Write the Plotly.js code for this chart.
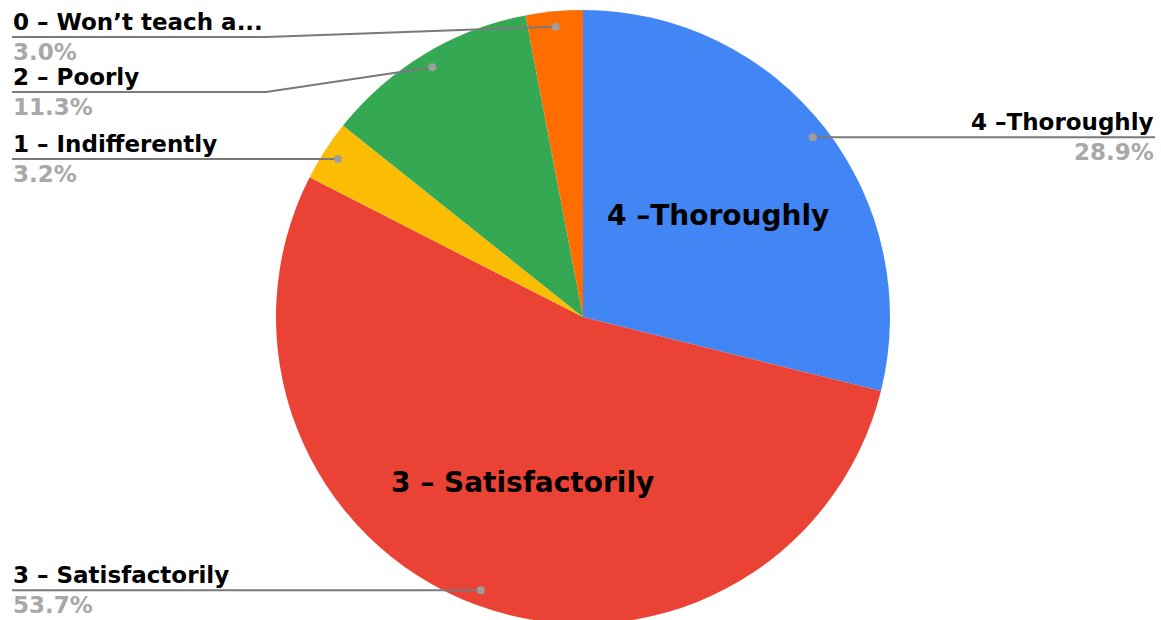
<!DOCTYPE html>
<html>
<head>
<meta charset="utf-8">
<script src="https://cdn.plot.ly/plotly-3.0.1.min.js"></script>
<style>
html, body { margin: 0; padding: 0; overflow: hidden; background: #fff; }
#chart { width: 1161px; height: 630px; }
</style>
</head>
<body>
<div id="chart"></div>
<script>
// ---- data ----
const categories = ['4 –Thoroughly', '3 – Satisfactorily', '1 – Indifferently', '2 – Poorly', '0 – Won’t teach a...'];
const values = [28.9, 53.7, 3.2, 11.3, 3.0];
const percentLabels = ['28.9%', '53.7%', '3.2%', '11.3%', '3.0%'];
const insideLabels = ['4 –Thoroughly', '3 – Satisfactorily', '', '', ''];
const colors = ['#4285F4', '#EA4335', '#FBBC04', '#34A853', '#FF6D01'];

// ---- layout geometry (pixels) ----
const W = 1161, H = 630;
const M = { t: 10, b: 6, l: 0, r: 0 };
const plotH = H - M.t - M.b;
const domX = [0.2, 0.8043];
const R = plotH / 2;
const CX = (domX[0] + domX[1]) / 2 * W;
const CY = M.t + R;

// outer label placement: side, text x, elbow x (null = straight), line y (null = dot y)
const labelPlacement = [
  { side: 'right', textX: 1155, elbowX: null, lineY: null },
  { side: 'left', textX: 12, elbowX: null, lineY: null },
  { side: 'left', textX: 12, elbowX: null, lineY: null },
  { side: 'left', textX: 12, elbowX: 266, lineY: 92 },
  { side: 'left', textX: 12, elbowX: 266, lineY: 37 }
];

const px = x => x / W;
const py = y => (M.t + plotH - y) / plotH;

const total = values.reduce((a, b) => a + b, 0);
let cum = 0;
const shapes = [];
const annotations = [];
const LINE = '#7a7a7a';
const FONT = 'DejaVu Sans, Liberation Sans, Arial, sans-serif';

values.forEach((v, i) => {
  const mid = (cum + v / 2) / total * 2 * Math.PI;
  cum += v;
  const s = Math.sin(mid), c = Math.cos(mid);
  const dx = CX + 0.95 * R * s, dy = CY - 0.95 * R * c;
  const p = labelPlacement[i];
  const ly = p.lineY === null ? dy : p.lineY;
  // leader line
  if (p.elbowX !== null) {
    shapes.push({ type: 'line', xref: 'paper', yref: 'paper', x0: px(dx), y0: py(dy), x1: px(p.elbowX), y1: py(ly), line: { color: LINE, width: 2 } });
    shapes.push({ type: 'line', xref: 'paper', yref: 'paper', x0: px(p.elbowX), y0: py(ly), x1: px(p.textX), y1: py(ly), line: { color: LINE, width: 2 } });
  } else {
    shapes.push({ type: 'line', xref: 'paper', yref: 'paper', x0: px(dx), y0: py(ly), x1: px(p.textX), y1: py(ly), line: { color: LINE, width: 2 } });
  }
  // dot
  const rd = 4;
  shapes.push({ type: 'circle', xref: 'paper', yref: 'paper', x0: px(dx - rd), x1: px(dx + rd), y0: py(dy - rd), y1: py(dy + rd), fillcolor: '#9e9e9e', line: { width: 0 } });
  const anchor = p.side === 'right' ? 'right' : 'left';
  annotations.push({ xref: 'paper', yref: 'paper', x: px(p.textX), y: py(ly - 1), xanchor: anchor, yanchor: 'bottom', showarrow: false, text: categories[i], font: { family: FONT, size: 23, color: '#000', weight: 'bold' }, borderpad: 0 });
  annotations.push({ xref: 'paper', yref: 'paper', x: px(p.textX), y: py(ly + 1), xanchor: anchor, yanchor: 'top', showarrow: false, text: percentLabels[i], font: { family: FONT, size: 23, color: '#a8a8a8', weight: 'bold' }, borderpad: 0 });
  // inside label
  if (insideLabels[i]) {
    const ix = CX + 0.56 * R * s, iy = CY - 0.56 * R * c + 4;
    annotations.push({ xref: 'paper', yref: 'paper', x: px(ix), y: py(iy), xanchor: 'center', yanchor: 'middle', showarrow: false, text: insideLabels[i], font: { family: FONT, size: 28, color: '#000', weight: 'bold' } });
  }
});

const trace = {
  type: 'pie',
  labels: categories,
  values: values,
  sort: false,
  direction: 'clockwise',
  rotation: 0,
  marker: { colors: colors, line: { width: 0 } },
  textinfo: 'none',
  hoverinfo: 'label+percent',
  domain: { x: domX, y: [0, 1] },
  showlegend: false
};

Plotly.newPlot('chart', [trace], {
  width: W, height: H,
  margin: M,
  paper_bgcolor: '#fff',
  showlegend: false,
  shapes: shapes,
  annotations: annotations
}, { displayModeBar: false, staticPlot: true });
</script>
</body>
</html>
